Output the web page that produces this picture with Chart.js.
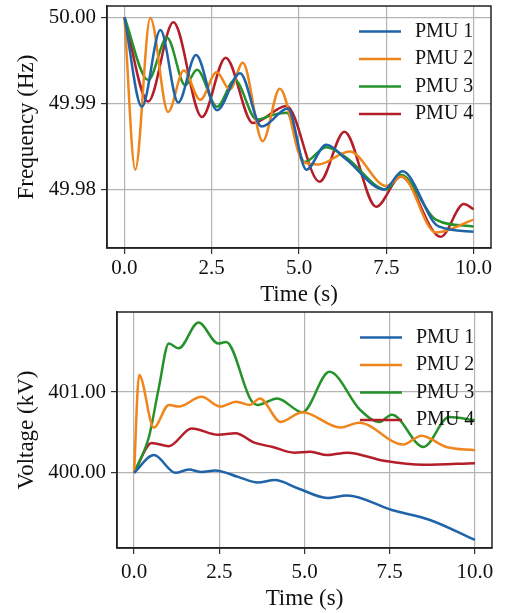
<!DOCTYPE html>
<html lang="en">
<head>
    <meta charset="UTF-8">
    <title>PMU frequency and voltage</title>
    <style>
        body { margin: 0; background: #fff; }
        #wrap { position: relative; width: 506px; height: 613px; }
        #freqChart { position: absolute; left: 0; top: 0; }
        #voltChart { position: absolute; left: 0; top: 306px; }
    </style>
</head>
<body>
    <div id="wrap">
        <canvas id="freqChart" width="506" height="306"></canvas>
        <canvas id="voltChart" width="506" height="307"></canvas>
    </div>
    <script src="https://cdn.jsdelivr.net/npm/chart.js@4.4.1/dist/chart.umd.min.js"></script>
    <script>
        // series names and tick values
        const pmuNames = ['PMU 1', 'PMU 2', 'PMU 3', 'PMU 4'];
        const pmuColors = ['#1f64a8', '#f0851c', '#25922a', '#b41e28'];
        const timeTicks = [0, 2.5, 5, 7.5, 10];
        const freqTicks = [49.98, 49.99, 50.00];
        const voltTicks = [400, 401];

        // frequency (Hz) at the turning points
        const f1T = [0, 0.50, 1.03, 1.54, 2.05, 2.65, 3.31, 3.93, 4.68, 5.21, 5.78, 6.35, 7.44, 7.96, 9.0, 10];
        const f1V = [50.000, 49.9896, 49.9985, 49.9901, 49.9956, 49.9892, 49.9935, 49.9873, 49.9894, 49.9823, 49.9852, 49.9835, 49.9800, 49.9821, 49.9757, 49.9751];
        const f2T = [0, 0.31, 0.74, 1.25, 1.70, 2.17, 2.64, 3.02, 3.39, 3.96, 4.45, 5.12, 5.55, 6.45, 7.5, 7.94, 8.92, 10];
        const f2V = [50.000, 49.9823, 49.9999, 49.9890, 49.9938, 49.9904, 49.9936, 49.9916, 49.9947, 49.9856, 49.9917, 49.9832, 49.9829, 49.9844, 49.9804, 49.9815, 49.9750, 49.9765];
        const f3T = [0, 0.68, 1.22, 1.74, 2.08, 2.65, 3.16, 3.79, 4.2, 4.65, 5.16, 5.78, 6.35, 7.5, 7.92, 8.92, 10];
        const f3V = [50.000, 49.9927, 49.9976, 49.9921, 49.9939, 49.9896, 49.9927, 49.9881, 49.9886, 49.9889, 49.9832, 49.9849, 49.9837, 49.9800, 49.9817, 49.9765, 49.9757];
        const f4T = [0, 0.68, 1.40, 2.22, 2.90, 3.68, 4.64, 5.59, 6.30, 7.21, 7.92, 9.06, 9.72, 10];
        const f4V = [50.000, 49.9902, 49.9994, 49.9884, 49.9953, 49.9877, 49.9897, 49.9809, 49.9867, 49.9780, 49.9815, 49.9745, 49.9783, 49.9777];

        // voltage (kV)
        const v1T = [0, 0.58, 1.22, 1.6, 1.98, 2.38, 3.05, 3.63, 4.13, 4.8, 5.67, 6.25, 7.56, 8.66, 10];
        const v1V = [400.00, 400.22, 400.00, 400.04, 400.01, 400.03, 399.95, 399.88, 399.91, 399.81, 399.69, 399.72, 399.54, 399.42, 399.17];
        const v2T = [0, 0.15, 0.58, 1.02, 1.31, 1.98, 2.53, 3.0, 3.4, 3.69, 4.3, 4.94, 6.05, 6.6, 7.9, 8.43, 9.16, 10];
        const v2V = [400.00, 401.21, 400.56, 400.84, 400.82, 400.94, 400.82, 400.88, 400.84, 400.92, 400.63, 400.75, 400.56, 400.62, 400.35, 400.46, 400.32, 400.28];
        const v3T = [0, 0.44, 0.73, 1.02, 1.31, 1.89, 2.47, 2.7, 3.43, 3.63, 4.2, 4.94, 5.73, 6.63, 7.2, 7.56, 8.49, 9.24, 10];
        const v3V = [400.00, 400.45, 401.06, 401.60, 401.54, 401.86, 401.60, 401.62, 400.90, 400.84, 400.92, 400.75, 401.25, 400.78, 400.63, 400.72, 400.32, 400.69, 400.65];
        const v4T = [0, 0.52, 1.02, 1.69, 2.47, 2.97, 3.55, 4.07, 4.7, 5.17, 5.67, 6.25, 7.33, 8.49, 10];
        const v4V = [400.00, 400.37, 400.33, 400.55, 400.47, 400.49, 400.37, 400.32, 400.25, 400.26, 400.22, 400.25, 400.15, 400.10, 400.12];

        const serif = '"Liberation Serif", "DejaVu Serif", serif';

        function pairs(t, v) {
            return t.map((x, i) => ({ x: x, y: v[i] }));
        }

        function makeDatasets(series) {
            return series.map((s, i) => ({
                label: pmuNames[i],
                data: pairs(s[0], s[1]),
                borderColor: pmuColors[i],
                borderWidth: 2.5,
                pointRadius: 0,
                cubicInterpolationMode: 'monotone',
                fill: false
            }));
        }

        // box around the plot + legend inside the upper right corner
        const frameAndLegend = {
            id: 'frameAndLegend',
            afterDatasetsDraw(chart) {
                const { ctx, chartArea: a } = chart;
                ctx.save();
                ctx.strokeStyle = '#222';
                ctx.lineWidth = 1.5;
                ctx.strokeRect(a.left, a.top, a.right - a.left, a.bottom - a.top);
                ctx.font = '20px ' + serif;
                ctx.textBaseline = 'middle';
                ctx.textAlign = 'left';
                chart.data.datasets.forEach((ds, i) => {
                    const y = a.top + 25.5 + i * 27.5;
                    ctx.strokeStyle = ds.borderColor;
                    ctx.lineWidth = 2.5;
                    ctx.beginPath();
                    ctx.moveTo(a.right - 132, y);
                    ctx.lineTo(a.right - 90, y);
                    ctx.stroke();
                    ctx.fillStyle = '#111';
                    ctx.fillText(ds.label, a.right - 76, y);
                });
                ctx.restore();
            }
        };

        function makeChart(id, series, cfg) {
            return new Chart(document.getElementById(id), {
                type: 'line',
                data: { datasets: makeDatasets(series) },
                plugins: [frameAndLegend],
                options: {
                    responsive: false,
                    animation: false,
                    devicePixelRatio: 1,
                    layout: { padding: { top: 6, right: cfg.padRight, left: 0, bottom: 0 } },
                    plugins: { legend: { display: false }, tooltip: { enabled: false } },
                    scales: {
                        x: {
                            type: 'linear',
                            min: -0.5,
                            max: 10.5,
                            afterBuildTicks: s => { s.ticks = timeTicks.map(v => ({ value: v })); },
                            afterFit: s => {
                                s.height = cfg.xHeight;
                                s.paddingLeft = 0;
                                s.paddingRight = 0;
                            },
                            grid: { color: '#b4b4b4', lineWidth: 1.2, tickColor: '#333', tickLength: 6 },
                            border: { color: '#222', width: 1.5 },
                            ticks: {
                                color: '#111',
                                padding: cfg.xTickPad,
                                maxRotation: 0,
                                font: { family: serif, size: 21 },
                                callback: v => Number(v).toFixed(1)
                            },
                            title: {
                                display: true,
                                text: 'Time (s)',
                                color: '#111',
                                padding: { top: 0, bottom: cfg.xTitlePad },
                                font: { family: serif, size: 23, lineHeight: 1 }
                            }
                        },
                        y: {
                            min: cfg.yMin,
                            max: cfg.yMax,
                            afterBuildTicks: s => { s.ticks = cfg.yTicks.map(v => ({ value: v })); },
                            afterFit: s => {
                                s.width = cfg.yWidth;
                                s.paddingTop = 0;
                                s.paddingBottom = 0;
                            },
                            grid: { color: '#b4b4b4', lineWidth: 1.2, tickColor: '#333', tickLength: 6 },
                            border: { color: '#222', width: 1.5 },
                            ticks: {
                                color: '#111',
                                padding: 5,
                                font: { family: serif, size: 21 },
                                callback: v => Number(v).toFixed(2)
                            },
                            title: {
                                display: true,
                                text: cfg.yTitle,
                                color: '#111',
                                padding: { top: cfg.yTitlePad, bottom: 0 },
                                font: { family: serif, size: 23, lineHeight: 1 }
                            }
                        }
                    }
                }
            });
        }

        makeChart('freqChart', [[f1T, f1V], [f2T, f2V], [f3T, f3V], [f4T, f4V]], {
            yMin: 49.9732, yMax: 50.0013, yTicks: freqTicks, yTitle: 'Frequency (Hz)',
            yWidth: 107, xHeight: 58, padRight: 15, xTickPad: 2, xTitlePad: 0, yTitlePad: 15
        });

        makeChart('voltChart', [[v1T, v1V], [v2T, v2V], [v3T, v3V], [v4T, v4V]], {
            yMin: 399.07, yMax: 401.99, yTicks: voltTicks, yTitle: 'Voltage (kV)',
            yWidth: 117, xHeight: 65, padRight: 14, xTickPad: 6, xTitlePad: 3, yTitlePad: 15
        });
    </script>
</body>
</html>
